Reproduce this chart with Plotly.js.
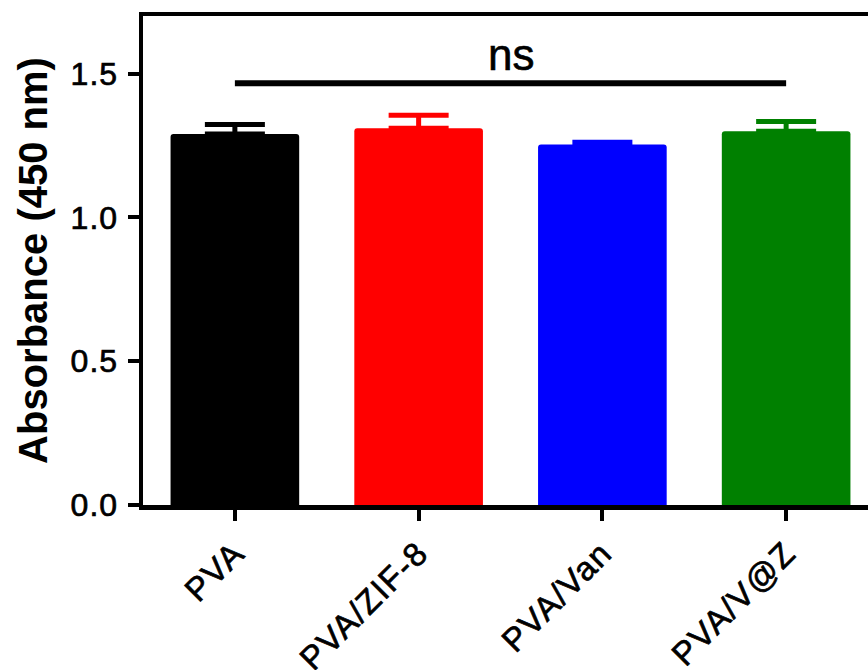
<!DOCTYPE html>
<html>
<head>
<meta charset="utf-8">
<script src="https://cdn.plot.ly/plotly-3.0.1.min.js"></script>
<style>
html,body{margin:0;padding:0;overflow:hidden;background:#fff;width:868px;height:670px;}
#chart{width:890px;height:670px;}
.xtick text {letter-spacing: 1.5px; stroke:#000; stroke-width:0.7px;}
.ytick text {letter-spacing: 1px; stroke:#000; stroke-width:0.7px;}
.annotation-text {stroke:#000; stroke-width:0.6px;}
</style>
</head>
<body>
<div id="chart"></div>
<script>
const categories = ['PVA', 'PVA/ZIF-8', 'PVA/Van', 'PVA/V@Z'];
const means = [1.290, 1.310, 1.253, 1.299];
const errors = [0.033, 0.045, 0.008, 0.034];
const colors = ['#000000', '#FF0000', '#0000FF', '#008000'];
const yTickVals = [0, 0.5, 1.0, 1.5];
const yTickText = ['0.0', '0.5', '1.0', '1.5'];
const sigFrom = 'PVA';
const sigTo = 'PVA/V@Z';
const sigLevel = 1.466;
const sigLabel = 'ns';

const FONT = '"Liberation Sans", Arial, sans-serif';

const traces = categories.map((c, i) => ({
  type: 'bar',
  x: [c],
  y: [means[i]],
  marker: {color: colors[i], line: {width: 0}},
  error_y: {
    type: 'data',
    array: [errors[i]],
    arrayminus: [0],
    symmetric: false,
    color: colors[i],
    thickness: 5,
    width: 30
  },
  showlegend: false,
  hoverinfo: 'skip'
}));

traces.push({
  type: 'scatter',
  mode: 'lines',
  x: [sigFrom, sigTo],
  y: [sigLevel, sigLevel],
  line: {color: '#000', width: 6},
  showlegend: false,
  hoverinfo: 'skip'
});

const layout = {
  width: 890,
  height: 670,
  margin: {l: 143, r: 12, t: 16, b: 165},
  paper_bgcolor: '#fff',
  plot_bgcolor: '#fff',
  barmode: 'overlay',
  bargap: 0.3,
  barcornerradius: 3,
  font: {family: FONT, color: '#000'},
  xaxis: {
    type: 'category',
    categoryorder: 'array',
    categoryarray: categories,
    range: [-0.5, 3.5],
    showline: true,
    linecolor: '#000',
    linewidth: 4.5,
    mirror: true,
    showgrid: false,
    zeroline: false,
    ticks: 'outside',
    ticklen: 11,
    tickwidth: 4,
    tickcolor: '#000',
    tickangle: -45,
    tickfont: {family: FONT, size: 33, color: '#000'}
  },
  yaxis: {
    range: [0, 1.7],
    tickvals: yTickVals,
    ticktext: yTickText,
    showline: true,
    linecolor: '#000',
    linewidth: 4.5,
    showgrid: false,
    zeroline: false,
    ticks: 'outside',
    ticklen: 11,
    tickwidth: 4,
    tickcolor: '#000',
    ticklabelstandoff: 3,
    tickfont: {family: FONT, size: 32, color: '#000'},
    title: {
      text: 'Absorbance (450 nm)',
      font: {family: FONT, size: 40, color: '#000', weight: 'bold'},
      standoff: 12
    }
  },
  annotations: [{
    x: (categories.indexOf(sigFrom) + categories.indexOf(sigTo)) / 2,
    y: sigLevel,
    xref: 'x',
    yref: 'y',
    text: sigLabel,
    showarrow: false,
    yanchor: 'bottom',
    yshift: 2,
    font: {family: FONT, size: 44, color: '#000'}
  }]
};

Plotly.newPlot('chart', traces, layout, {staticPlot: true, displayModeBar: false});
</script>
</body>
</html>
